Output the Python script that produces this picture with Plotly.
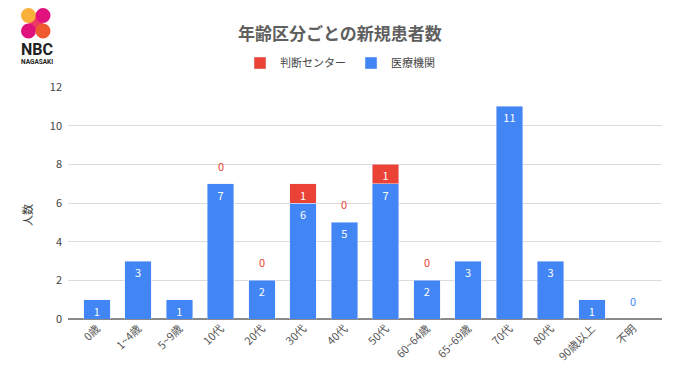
import plotly.graph_objects as go

categories = ["0歳", "1~4歳", "5~9歳", "10代", "20代", "30代", "40代", "50代",
              "60~64歳", "65~69歳", "70代", "80代", "90歳以上", "不明"]
iryo = [1, 3, 1, 7, 2, 6, 5, 7, 2, 3, 11, 3, 1, 0]
handan = [None, None, None, 0, 0, 1, 0, 1, 0, None, None, None, None, None]
y_ticks = [0, 2, 4, 6, 8, 10, 12]

BLUE = "#4285F4"
RED = "#EA4335"
FONT = "Noto Sans CJK JP"

# page offset (body margin of the html page)
OX, OY = 8, 8
# plot area in page pixels
L, R, T, B = 68, 662, 87, 319
W, H = 680 - 2 * OX, 382 - 2 * OY


def px(x):
    return (x - L) / (R - L)


def py(y):
    return (B - y) / (B - T)


fig = go.Figure()

fig.add_trace(go.Bar(
    x=categories, y=iryo, name="医療機関", marker_color=BLUE,
    text=[str(v) if v else "" for v in iryo],
    textposition="inside", insidetextanchor="end", textangle=0,
    constraintext="none",
    textfont=dict(color="white", size=11, family=FONT),
    legendrank=2,
))
fig.add_trace(go.Bar(
    x=categories, y=[v if v else None for v in handan], name="判断センター",
    marker_color=RED,
    text=[str(v) if v else "" for v in handan],
    textposition="inside", insidetextanchor="end", textangle=0,
    constraintext="none",
    textfont=dict(color="white", size=11, family=FONT),
    legendrank=1,
))

annotations = []
# zero labels above the stack
for c, b, h in zip(categories, iryo, handan):
    total = b + (h or 0)
    if h == 0:
        annotations.append(dict(x=c, y=total, xref="x", yref="y", text="0",
                                showarrow=False, yshift=18,
                                font=dict(color=RED, size=11, family=FONT)))
    elif h is None and b == 0:
        annotations.append(dict(x=c, y=total, xref="x", yref="y", text="0",
                                showarrow=False, yshift=18,
                                font=dict(color=BLUE, size=11, family=FONT)))

# title
annotations.append(dict(x=px(340), y=py(33), xref="paper", yref="paper",
                        text="<b>年齢区分ごとの新規患者数</b>", showarrow=False,
                        xanchor="center", yanchor="middle",
                        font=dict(size=17, color="#5f5f5f", family=FONT)))
# y-axis title
annotations.append(dict(x=px(27), y=py(215), xref="paper", yref="paper",
                        text="人数", showarrow=False, textangle=-90,
                        xanchor="center", yanchor="middle",
                        font=dict(size=11, color="#333", family=FONT)))
# logo text
annotations.append(dict(x=px(37), y=py(49), xref="paper", yref="paper",
                        text="<b>NBC</b>", showarrow=False,
                        xanchor="center", yanchor="middle",
                        font=dict(size=16, color="#222", family="Roboto")))
annotations.append(dict(x=px(37), y=py(61.5), xref="paper", yref="paper",
                        text="<b>NAGASAKI</b>", showarrow=False,
                        xanchor="center", yanchor="middle",
                        font=dict(size=6.5, color="#222", family="Roboto")))

shapes = []
# logo band
shapes.append(dict(type="line", xref="paper", yref="paper",
                   x0=px(28.5), y0=py(15.5), x1=px(43), y1=py(31),
                   line=dict(color="#ec3a64", width=10), layer="above"))
r = 7.5
for (cx, cy, col) in [(28.5, 15.5, "#f9b13a"), (43, 15.5, "#e2127e"),
                      (28.5, 31, "#e0107c"), (43, 31, "#f05a30")]:
    shapes.append(dict(type="circle", xref="paper", yref="paper",
                       x0=px(cx - r), x1=px(cx + r), y0=py(cy + r), y1=py(cy - r),
                       fillcolor=col, line=dict(width=0), layer="above"))

fig.update_layout(
    width=W, height=H,
    margin=dict(l=L - OX, r=(680 - R) - OX, t=T - OY, b=(382 - B) - OY, pad=0),
    barmode="stack", bargap=0.36,
    plot_bgcolor="white", paper_bgcolor="white",
    font=dict(family=FONT, size=11, color="#444"),
    showlegend=True,
    legend=dict(orientation="h", x=px(340), xanchor="center",
                y=py(63), yanchor="middle", traceorder="normal",
                font=dict(size=11, color="#444", family=FONT),
                itemwidth=30),
    annotations=annotations,
    shapes=shapes,
)
fig.update_xaxes(range=[-0.7, 13.7], tickangle=-45, showgrid=False,
                 tickfont=dict(size=11, color="#555", family=FONT),
                 ticks="", fixedrange=True)
fig.update_yaxes(range=[0, 12], tickvals=y_ticks, showgrid=True,
                 gridcolor="#dcdcdc", gridwidth=1, zeroline=True,
                 zerolinecolor="#8a8a8a", zerolinewidth=1.5,
                 tickfont=dict(size=11, color="#444", family=FONT),
                 ticklabelstandoff=5)

fig.write_html("out.html")
